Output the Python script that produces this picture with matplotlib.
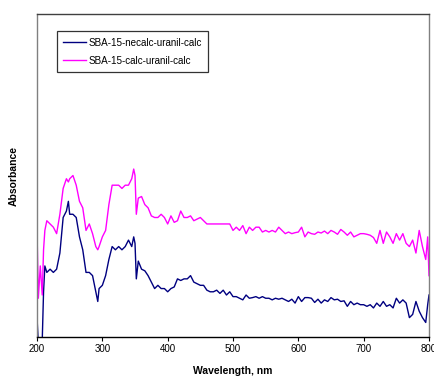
import matplotlib
matplotlib.use("Agg")
import matplotlib.pyplot as plt

plt.rcParams['font.family'] = ['Liberation Sans', 'DejaVu Sans']

# wavelength grid, nm
wavelength = [
    200, 202, 205, 208, 210, 212, 215, 220, 225, 230, 235, 240, 245, 248,
    250, 255, 260, 265, 270, 275, 280, 285, 290, 293, 295, 300, 305, 310,
    315, 320, 325, 330, 335, 340, 345, 348, 350, 352, 355, 360, 365, 370,
    375, 380, 385, 390, 395, 400, 405, 410, 415, 420, 425, 430, 435, 440,
    445, 450, 455, 460, 465, 470, 475, 480, 485, 490, 495, 500, 505, 510,
    515, 520, 525, 530, 535, 540, 545, 550, 555, 560, 565, 570, 575, 580,
    585, 590, 595, 600, 605, 610, 615, 620, 625, 630, 635, 640, 645, 650,
    655, 660, 665, 670, 675, 680, 685, 690, 695, 700, 705, 710, 715, 720,
    725, 730, 735, 740, 745, 750, 755, 760, 765, 770, 775, 780, 785, 790,
    795, 798, 800,
]

# SBA-15-necalc-uranil-calc
necalc = [
    0.06, -0.02, -0.02, -0.01, 0.14, 0.22, 0.20, 0.21, 0.20, 0.21, 0.26, 0.37, 0.39, 0.42,
    0.38, 0.38, 0.37, 0.31, 0.27, 0.20, 0.20, 0.19, 0.14, 0.11, 0.15, 0.16, 0.19, 0.24,
    0.28, 0.27, 0.28, 0.27, 0.28, 0.30, 0.28, 0.31, 0.29, 0.18, 0.235, 0.21, 0.205, 0.19,
    0.17, 0.15, 0.16, 0.15, 0.15, 0.14, 0.15, 0.155, 0.18, 0.175, 0.18, 0.18, 0.19, 0.17,
    0.165, 0.16, 0.16, 0.145, 0.14, 0.14, 0.145, 0.135, 0.145, 0.13, 0.14, 0.125, 0.125, 0.12,
    0.115, 0.13, 0.12, 0.122, 0.125, 0.12, 0.125, 0.12, 0.12, 0.115, 0.12, 0.117, 0.12, 0.115,
    0.11, 0.117, 0.105, 0.125, 0.11, 0.122, 0.122, 0.12, 0.107, 0.117, 0.105, 0.115, 0.11, 0.122,
    0.115, 0.117, 0.11, 0.112, 0.095, 0.11, 0.10, 0.105, 0.10, 0.10, 0.095, 0.10, 0.09, 0.105,
    0.095, 0.11, 0.095, 0.10, 0.09, 0.12, 0.105, 0.115, 0.105, 0.06, 0.07, 0.11, 0.08, 0.06,
    0.045, 0.10, 0.13,
]

# SBA-15-calc-uranil-calc
calc = [
    0.33, 0.12, 0.22, 0.13, 0.27, 0.33, 0.36, 0.35, 0.34, 0.32, 0.38, 0.46, 0.49, 0.48,
    0.49, 0.50, 0.47, 0.42, 0.40, 0.33, 0.35, 0.32, 0.28, 0.27, 0.28, 0.31, 0.33, 0.41,
    0.47, 0.47, 0.47, 0.46, 0.47, 0.47, 0.49, 0.52, 0.50, 0.38, 0.43, 0.435, 0.41, 0.40,
    0.375, 0.37, 0.37, 0.38, 0.37, 0.35, 0.375, 0.355, 0.36, 0.39, 0.37, 0.37, 0.375, 0.36,
    0.365, 0.37, 0.36, 0.35, 0.35, 0.35, 0.35, 0.35, 0.35, 0.35, 0.35, 0.33, 0.34, 0.33,
    0.345, 0.32, 0.34, 0.33, 0.34, 0.34, 0.325, 0.33, 0.325, 0.33, 0.325, 0.34, 0.33, 0.32,
    0.325, 0.32, 0.323, 0.325, 0.34, 0.31, 0.325, 0.32, 0.318, 0.325, 0.322, 0.328, 0.32, 0.33,
    0.325, 0.318, 0.333, 0.325, 0.315, 0.325, 0.31, 0.315, 0.32, 0.32, 0.318, 0.315, 0.308, 0.29,
    0.33, 0.29, 0.325, 0.31, 0.29, 0.32, 0.30, 0.32, 0.29, 0.28, 0.30, 0.26, 0.33, 0.28,
    0.24, 0.31, 0.19,
]

x_ticks = [200, 300, 400, 500, 600, 700, 800]

fig = plt.figure(figsize=(4.35, 3.83), dpi=100)
ax = fig.add_axes([0.0851, 0.1201, 0.9011, 0.8433])

ax.plot(wavelength, necalc, color='#000080', lw=1.0, label='SBA-15-necalc-uranil-calc')
ax.plot(wavelength, calc, color='#ff00ff', lw=1.0, label='SBA-15-calc-uranil-calc')

ax.set_xlim(200, 800)
ax.set_ylim(0, 1.0)
ax.set_xticks(x_ticks)
ax.set_yticks([])
ax.tick_params(axis='x', direction='out', length=3, width=0.8, pad=2, labelsize=7)

for side in ('left', 'right'):
    ax.spines[side].set_color('#808080')
ax.spines['top'].set_color('#404040')
ax.spines['bottom'].set_color('black')
for sp in ax.spines.values():
    sp.set_linewidth(1.0)

ax.set_xlabel('Wavelength, nm', fontsize=7.5, fontweight='bold', labelpad=9)
ax.set_ylabel('Absorbance', fontsize=7.5, fontweight='bold', labelpad=13)

leg = ax.legend(loc='upper left', bbox_to_anchor=(0.051, 0.947), borderaxespad=0,
                fontsize=7.1, frameon=True, fancybox=False, edgecolor='black',
                handlelength=2.3, handletextpad=0.25, labelspacing=0.85,
                borderpad=0.65)
leg.get_frame().set_linewidth(0.9)

fig.savefig('out.png', dpi=100)
